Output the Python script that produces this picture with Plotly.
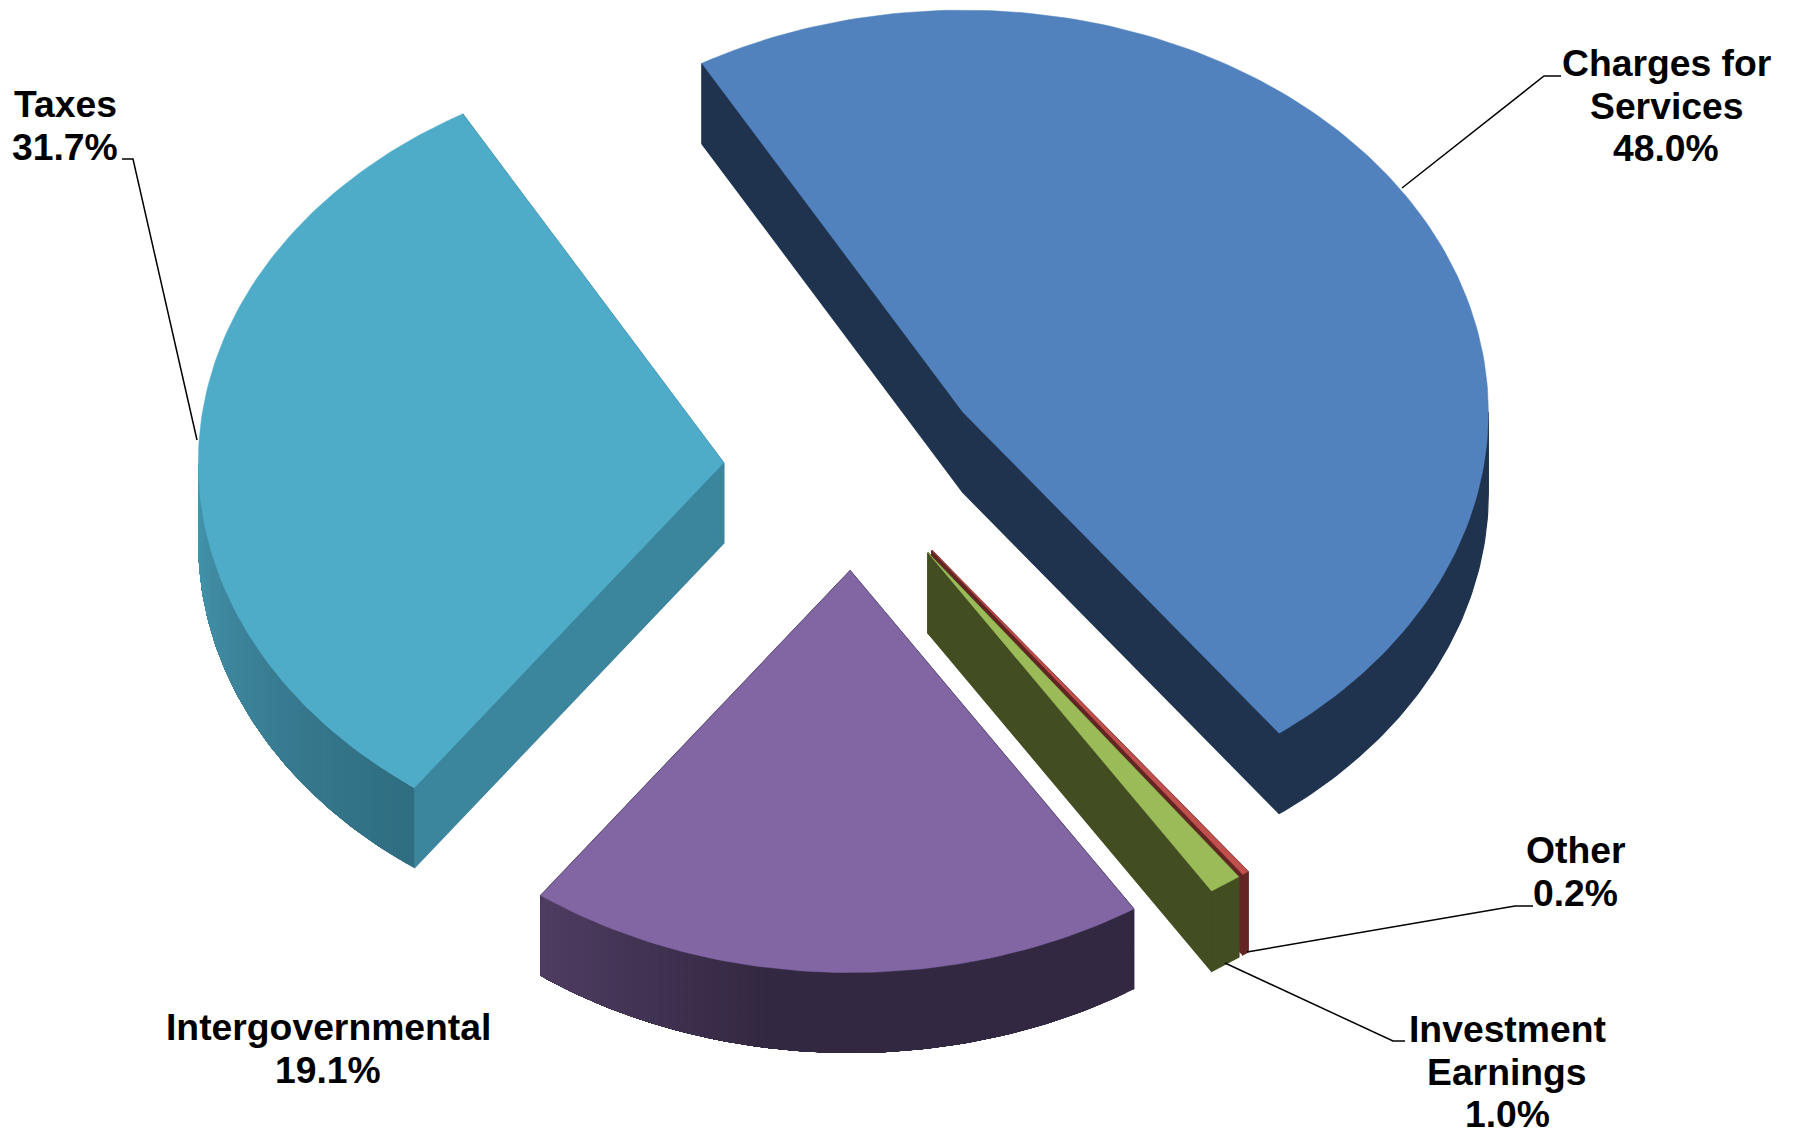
import math
import plotly.graph_objects as go

# Revenue shares, in the order they run clockwise round the pie
categories = ["Charges for Services", "Other", "Investment Earnings", "Intergovernmental", "Taxes"]
shares = [48.0, 0.2, 1.0, 19.1, 31.7]

# Colours per slice: top face, cut faces
top_colors = ["#5182BE", "#C0504D", "#9BBB59", "#8166A3", "#4FACC8"]
cut_colors = ["#1F334F", "#632523", "#424D21", "#332842", "#3B859D"]
# Rim shading stops (angle, colour); a single stop means a flat rim
rim_shades = [
    [(90, "#1F334F")],
    [(90, "#632523")],
    [(90, "#424D21")],
    [(189, "#332842"), (216.5, "#4F3D62")],
    [(216, "#2F6D81"), (235, "#37798E"), (270, "#4597AF")],
]

# Pie geometry in page pixels
CX, CY = 854.0, 468.4
RX, RY = 525.4, 402.0
DEPTH = 80.4
EXPLODE_X, EXPLODE_Y = 130.5, 102.2
START_DEG = -29.8

# Label layout: text lines, centre x, centre y of the first line
label_layout = {
    "Charges for Services": (["Charges for", "Services"], 1666, 63),
    "Other": (["Other"], 1575, 850),
    "Investment Earnings": (["Investment", "Earnings"], 1507, 1029),
    "Intergovernmental": (["Intergovernmental"], 328, 1027),
    "Taxes": (["Taxes"], 65, 104),
}
LINE_STEP = 42.6
leaders = [
    ([1561, 1544, 1402], [76, 76, 188]),
    ([122, 133, 197], [159, 159, 440]),
    ([1533, 1515, 1247], [906, 906, 952]),
    ([1405, 1393, 1225], [1041, 1041, 963]),
]


def hex_rgb(c):
    return tuple(int(c[i:i + 2], 16) for i in (1, 3, 5))


def shade_at(stops, deg):
    if deg <= stops[0][0]:
        return stops[0][1]
    for (a0, c0), (a1, c1) in zip(stops, stops[1:]):
        if deg <= a1:
            f = (deg - a0) / (a1 - a0)
            r0, r1 = hex_rgb(c0), hex_rgb(c1)
            return "rgb(%d,%d,%d)" % tuple(round(p + (q - p) * f) for p, q in zip(r0, r1))
    return stops[-1][1]


def on_ellipse(ox, oy, deg):
    t = math.radians(deg)
    return ox + RX * math.sin(t), oy - RY * math.cos(t)


def polygon(xs, ys, color, edge=0.5):
    return go.Scatter(
        x=xs, y=ys, mode="lines", fill="toself", fillcolor=color,
        line=dict(color=color, width=edge), hoverinfo="skip", showlegend=False,
    )


def rim_band(ox, oy, d0, d1):
    """Outline of the rim wall between two angles."""
    n = max(1, int((d1 - d0) / 0.75))
    pts = [on_ellipse(ox, oy, d0 + (d1 - d0) * k / n) for k in range(n + 1)]
    xs = [p[0] for p in pts] + [p[0] for p in reversed(pts)] + [pts[0][0]]
    ys = [p[1] for p in pts] + [p[1] + DEPTH for p in reversed(pts)] + [pts[0][1]]
    return xs, ys


# Angular span of every slice, worked out from its share
spans = []
angle = START_DEG
for share in shares:
    spans.append((angle, angle + share * 3.6))
    angle += share * 3.6

fig = go.Figure()

# Back slices first so nearer ones paint over them
for i in [0, 4, 1, 2, 3]:
    a0, a1 = spans[i]
    mid = math.radians((a0 + a1) / 2)
    ox = CX + EXPLODE_X * math.sin(mid)
    oy = CY - EXPLODE_Y * math.cos(mid)

    # Flat cut faces; the wider edge closes the hairline where two same-coloured walls meet
    for edge in (a0, a1):
        ex, ey = on_ellipse(ox, oy, edge)
        fig.add_trace(polygon([ox, ex, ex, ox, ox],
                              [oy, ey, ey + DEPTH, oy + DEPTH, oy], cut_colors[i], edge=1.2))

    # Curved rim: only the part from 90 to 270 degrees faces the viewer
    lo, hi = max(a0, 90), min(a1, 270)
    stops = rim_shades[i]
    if len(stops) == 1:
        fig.add_trace(polygon(*rim_band(ox, oy, lo, hi), stops[0][1], edge=1.2))
    else:
        # Each band runs on to the slice's far end, so later bands overlap and no seams show
        d = lo
        while d < hi:
            fig.add_trace(polygon(*rim_band(ox, oy, d, hi), shade_at(stops, d + 0.5), edge=0))
            d += 1.0

    # Top face
    n = max(2, int(a1 - a0))
    pts = [on_ellipse(ox, oy, a0 + (a1 - a0) * k / n) for k in range(n + 1)]
    fig.add_trace(polygon([ox] + [p[0] for p in pts] + [ox],
                          [oy] + [p[1] for p in pts] + [oy], top_colors[i]))

# Leader lines
for lx, ly in leaders:
    fig.add_trace(go.Scatter(x=lx, y=ly, mode="lines", line=dict(color="#000000", width=1.5),
                             hoverinfo="skip", showlegend=False))

# Labels: one annotation per line for tight leading
annotations = []
for name, share in zip(categories, shares):
    lines, x, y = label_layout[name]
    for j, text in enumerate(lines + [f"{share:.1f}%"]):
        annotations.append(dict(
            x=x, y=y + j * LINE_STEP, xref="x", yref="y", text=f"<b>{text}</b>",
            showarrow=False, xanchor="center", yanchor="middle",
            font=dict(family="Liberation Sans", size=37.3, color="#000000"),
        ))

fig.update_layout(
    width=1800, height=1136, margin=dict(l=0, r=0, t=0, b=0),
    paper_bgcolor="#FFFFFF", plot_bgcolor="#FFFFFF", showlegend=False,
    xaxis=dict(range=[0, 1800], visible=False, fixedrange=True),
    yaxis=dict(range=[1136, 0], visible=False, fixedrange=True),
    annotations=annotations,
)

fig.write_html("out.html", config={"displayModeBar": False})
